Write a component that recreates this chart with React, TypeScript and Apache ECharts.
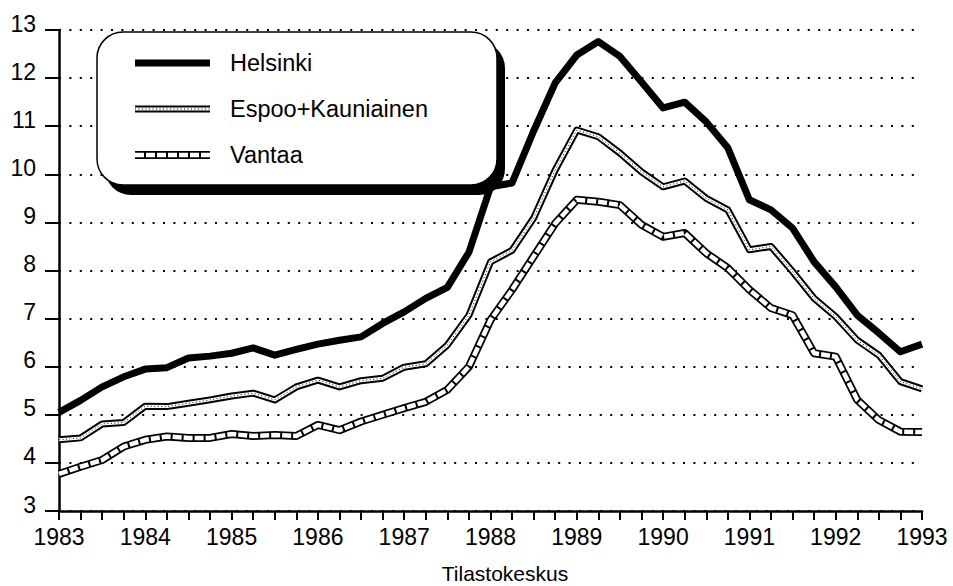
import { useEffect, useRef } from "react";
import * as echarts from "echarts";

const startYear = 1983;
const endYear = 1993;
const quarterStep = 0.25;
const yMin = 3;
const yMax = 13;

const seriesNames = ["Helsinki", "Espoo+Kauniainen", "Vantaa"];
const sourceText = "Tilastokeskus";

const helsinki = [
  5.05, 5.3, 5.58, 5.79, 5.95, 5.98, 6.18, 6.22, 6.28, 6.39, 6.24, 6.36,
  6.47, 6.55, 6.62, 6.9, 7.14, 7.42, 7.65, 8.38, 9.74, 9.82, 10.9, 11.9,
  12.48, 12.76, 12.45, 11.92, 11.38, 11.5, 11.09, 10.55, 9.47, 9.26, 8.88,
  8.18, 7.66, 7.07, 6.7, 6.31, 6.47,
];
const espoo = [
  4.48, 4.52, 4.81, 4.84, 5.18, 5.17, 5.24, 5.31, 5.39, 5.45, 5.31, 5.58,
  5.72, 5.58, 5.71, 5.76, 5.99, 6.06, 6.45, 7.07, 8.18, 8.42, 9.09, 10.09,
  10.92, 10.78, 10.44, 10.05, 9.74, 9.86, 9.5, 9.26, 8.43, 8.5, 7.98, 7.42,
  7.04, 6.55, 6.24, 5.69, 5.54,
];
const vantaa = [
  3.77, 3.92, 4.06, 4.34, 4.48, 4.55, 4.52, 4.52, 4.6, 4.56, 4.58, 4.56,
  4.79, 4.68, 4.86, 5.0, 5.14, 5.27, 5.52, 6.0, 6.97, 7.6, 8.29, 8.98, 9.47,
  9.43, 9.36, 8.95, 8.7, 8.78, 8.36, 8.05, 7.6, 7.22, 7.07, 6.28, 6.21, 5.31,
  4.89, 4.65, 4.64,
];

const FONT = "'Liberation Sans', Arial, Helvetica, sans-serif";

const toPairs = (vals: number[]) =>
  vals.map((v, i) => [startYear + i * quarterStep, v]);

const layer = (
  name: string,
  vals: number[],
  color: string,
  width: number,
  type: any,
  z: number
) => ({
  type: "line",
  name,
  data: toPairs(vals),
  symbol: "none",
  silent: true,
  z,
  lineStyle: { color, width, type, cap: "butt", join: "round" },
});

export default function App() {
  const ref = useRef<HTMLDivElement>(null);

  useEffect(() => {
    if (!ref.current) return;
    const chart = echarts.init(ref.current, null, { renderer: "svg" });

    const legendX = 97;
    const legendY = 32;
    const legendW = 400;
    const legendH = 153;
    const rowY = [63, 109, 155];
    const sx1 = 135;
    const sx2 = 210;

    const sampleLine = (y: number, stroke: string, lineWidth: number, lineDash?: number[]) => ({
      type: "line",
      shape: { x1: sx1, y1: y, x2: sx2, y2: y },
      style: { stroke, lineWidth, lineDash, lineCap: "butt" },
      z: 102,
    });

    chart.setOption({
      animation: false,
      backgroundColor: "#ffffff",
      grid: { left: 59, right: 31, top: 30, bottom: 75, containLabel: false },
      xAxis: {
        type: "value",
        min: startYear,
        max: endYear,
        interval: 1,
        axisLine: { show: true, lineStyle: { color: "#000", width: 2.5 } },
        axisTick: { show: true, inside: false, length: 9, lineStyle: { color: "#000", width: 2 } },
        minorTick: { show: true, splitNumber: 4, length: 9, lineStyle: { color: "#000", width: 2 } },
        splitLine: { show: false },
        axisLabel: {
          color: "#000",
          fontFamily: FONT,
          fontSize: 23,
          margin: 14,
          formatter: (v: number) => String(Math.round(v)),
        },
      },
      yAxis: {
        type: "value",
        min: yMin,
        max: yMax,
        interval: 1,
        axisLine: { show: true, lineStyle: { color: "#000", width: 2.5 } },
        axisTick: { show: true, inside: false, length: 14, lineStyle: { color: "#000", width: 2 } },
        splitLine: {
          show: true,
          lineStyle: { color: "#000", width: 2, type: [2, 8.4] },
        },
        axisLabel: {
          color: "#000",
          fontFamily: FONT,
          fontSize: 23,
          margin: 23,
          verticalAlign: "bottom",
          lineHeight: 13,
        },
      },
      series: [
        layer(seriesNames[2], vantaa, "#000", 8, "solid", 2),
        layer(seriesNames[2] + " fill", vantaa, "#fff", 4.5, [9, 2], 3),
        layer(seriesNames[1], espoo, "#000", 7, "solid", 4),
        layer(seriesNames[1] + " fill", espoo, "#fff", 3, "solid", 5),
        layer(seriesNames[1] + " dots", espoo, "#000", 1, [1, 2.5], 6),
        layer(seriesNames[0], helsinki, "#000", 7, "solid", 7),
      ],
      graphic: [
        {
          type: "rect",
          shape: { x: legendX + 8, y: legendY + 10, width: legendW, height: legendH, r: 26 },
          style: { fill: "#000" },
          z: 100,
        },
        {
          type: "rect",
          shape: { x: legendX, y: legendY, width: legendW, height: legendH, r: 26 },
          style: { fill: "#fff", stroke: "#000", lineWidth: 1.5 },
          z: 101,
        },
        sampleLine(rowY[0], "#000", 7),
        sampleLine(rowY[1], "#000", 7),
        sampleLine(rowY[1], "#fff", 3),
        sampleLine(rowY[1], "#000", 1, [1, 2.5]),
        sampleLine(rowY[2], "#000", 8),
        sampleLine(rowY[2], "#fff", 4.5, [9, 2]),
        ...seriesNames.map((n, i) => ({
          type: "text",
          x: 230,
          y: rowY[i],
          z: 103,
          style: {
            text: n,
            fill: "#000",
            font: `23.5px ${FONT}`,
            textVerticalAlign: "middle",
            verticalAlign: "middle",
          },
        })),
        {
          type: "text",
          x: 505,
          y: 573,
          z: 103,
          style: {
            text: sourceText,
            fill: "#000",
            font: `21px ${FONT}`,
            textAlign: "center",
            align: "center",
            textVerticalAlign: "middle",
            verticalAlign: "middle",
          },
        },
      ],
    });

    return () => chart.dispose();
  }, []);

  return <div ref={ref} style={{ width: 953, height: 586, position: "absolute", left: 0, top: 0 }} />;
}
